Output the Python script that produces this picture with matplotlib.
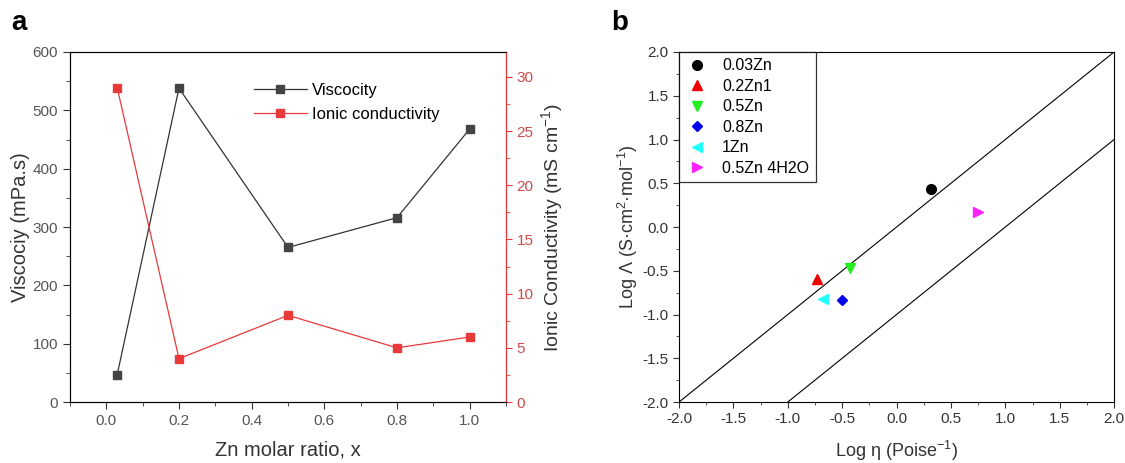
import numpy as np
import matplotlib
matplotlib.use("Agg")
import matplotlib.pyplot as plt
from matplotlib.ticker import MultipleLocator, FormatStrFormatter

plt.rcParams['font.family'] = ['Liberation Sans', 'DejaVu Sans']
plt.rcParams['mathtext.fontset'] = 'custom'
plt.rcParams['mathtext.rm'] = 'Liberation Sans'

# panel a data
zn_ratio = [0.03, 0.2, 0.5, 0.8, 1.0]
viscosity = [47, 538, 265, 316, 468]
conductivity = [29, 4, 8, 5, 6]

# panel b data
sample_names = ['0.03Zn', '0.2Zn1', '0.5Zn', '0.8Zn', '1Zn', '0.5Zn 4H2O']
log_fluidity = [0.32, -0.73, -0.43, -0.50, -0.68, 0.75]
log_molar_cond = [0.44, -0.59, -0.47, -0.83, -0.82, 0.17]
sample_markers = ['o', '^', 'v', 'D', '<', '>']
sample_colors = ['black', '#ee0000', '#22ee22', '#0000ee', '#22ffff', '#ff22ff']
ideal_x = [-2.0, 2.0]
ideal_offsets = [0.0, -1.0]

grey = '#444444'
red = '#e8393b'

fig = plt.figure(figsize=(11.25, 4.63), dpi=100)

# ---------------- panel a
ax1 = fig.add_axes([0.0622, 0.1317, 0.3876, 0.756])
ax2 = ax1.twinx()
l1, = ax1.plot(zn_ratio, viscosity, color='#333333', lw=0.9, marker='s', ms=6,
               mfc=grey, mec=grey, label='Viscocity')
l2, = ax2.plot(zn_ratio, conductivity, color=red, lw=0.9, marker='s', ms=6,
               mfc=red, mec=red, label='Ionic conductivity')
ax1.set_xlim(-0.1, 1.1)
ax1.set_ylim(0, 600)
ax2.set_ylim(0, 32.3)
ax1.xaxis.set_major_locator(MultipleLocator(0.2))
ax1.xaxis.set_minor_locator(MultipleLocator(0.1))
ax1.yaxis.set_major_locator(MultipleLocator(100))
ax1.yaxis.set_minor_locator(MultipleLocator(50))
ax2.yaxis.set_major_locator(MultipleLocator(5))
ax2.yaxis.set_minor_locator(MultipleLocator(2.5))
ax1.xaxis.set_major_formatter(FormatStrFormatter('%.1f'))
ax1.tick_params(which='major', direction='out', length=5, labelsize=11, colors='#333333', labelcolor='#555555')
ax1.tick_params(which='minor', direction='out', length=3, colors='#333333')
ax2.tick_params(which='major', direction='out', length=4, labelsize=11, colors=red, labelcolor='#d04a4a')
ax2.tick_params(which='minor', direction='out', length=3, colors=red)
ax2.spines['right'].set_color(red)
for s in ['left', 'bottom', 'top']:
    ax1.spines[s].set_color('#333333')
ax1.set_xlabel('Zn molar ratio, x', fontsize=14.5, color='#333333', labelpad=9)
ax1.set_ylabel('Viscociy (mPa.s)', fontsize=14.5, color='#333333', labelpad=2)
ax2.set_ylabel('Ionic Conductivity (mS cm$^{-1}$)', fontsize=14, color='#333333', labelpad=4)
ax1.legend(handles=[l1, l2], loc='upper left', bbox_to_anchor=(0.387, 0.955), frameon=False,
           fontsize=12, handlelength=3.2, labelspacing=0.55, handletextpad=0.3)
fig.text(0.010, 0.935, 'a', fontsize=20, fontweight='bold')

# ---------------- panel b
ax3 = fig.add_axes([0.6036, 0.1317, 0.3867, 0.756])
for off in ideal_offsets:
    ax3.plot(ideal_x, [v + off for v in ideal_x], color='black', lw=0.8)
for i in range(len(sample_names)):
    ms = 7 if sample_markers[i] != 'D' else 5.5
    ax3.plot(log_fluidity[i], log_molar_cond[i], linestyle='none', marker=sample_markers[i],
             ms=ms, color=sample_colors[i], label=sample_names[i])
ax3.set_xlim(-2, 2)
ax3.set_ylim(-2, 2)
ax3.xaxis.set_major_locator(MultipleLocator(0.5))
ax3.xaxis.set_minor_locator(MultipleLocator(0.25))
ax3.yaxis.set_major_locator(MultipleLocator(0.5))
ax3.yaxis.set_minor_locator(MultipleLocator(0.25))
ax3.xaxis.set_major_formatter(FormatStrFormatter('%.1f'))
ax3.yaxis.set_major_formatter(FormatStrFormatter('%.1f'))
ax3.tick_params(which='major', direction='out', length=4, labelsize=11, colors='#333333')
ax3.tick_params(which='minor', direction='out', length=2.5, colors='#333333')
ax3.set_xlabel('Log η (Poise$^{-1}$)', fontsize=13, color='#333333', labelpad=9)
ax3.set_ylabel('Log Λ (S·cm$^2$·mol$^{-1}$)', fontsize=13, color='#333333', labelpad=2)
leg = ax3.legend(loc='upper left', fontsize=11.5, fancybox=False, edgecolor='black',
                 borderaxespad=0, labelspacing=0.34, handletextpad=0.8, borderpad=0.4,
                 handlelength=1.5)
leg.get_frame().set_linewidth(0.9)
fig.text(0.543, 0.935, 'b', fontsize=20, fontweight='bold')

fig.savefig('out.png', dpi=100)
